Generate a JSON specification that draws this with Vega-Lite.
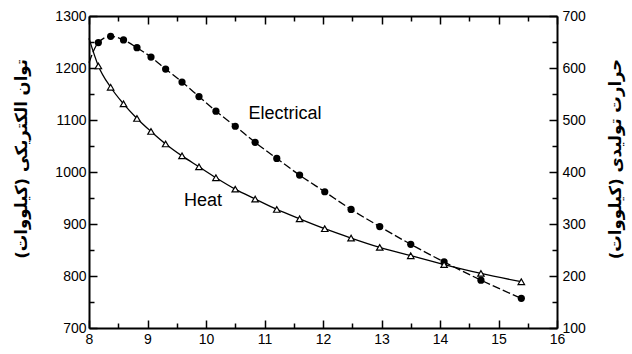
{
  "$schema": "https://vega.github.io/schema/vega-lite/v6.json",
  "autosize": {"type": "none"},
  "padding": {"left": 89, "top": 16, "right": 75, "bottom": 26},
  "width": 468,
  "height": 312,
  "background": "white",
  "config": {
    "view": {"stroke": null},
    "axis": {
      "labelFont": "Liberation Sans",
      "labelFontSize": 14,
      "labelColor": "#000000",
      "domainColor": "#000000",
      "domainWidth": 2,
      "tickColor": "#000000",
      "tickWidth": 1.5,
      "grid": false,
      "format": "d",
      "titleFont": "DejaVu Sans",
      "titleFontWeight": "bold",
      "titleFontSize": 16.5,
      "titleColor": "#000000"
    },
    "text": {"font": "Liberation Sans", "fontSize": 18, "color": "#000000"}
  },
  "datasets": {
    "electrical": [
      {"x": 8.0, "kw": 1210},
      {"x": 8.16, "kw": 1249},
      {"x": 8.37, "kw": 1261},
      {"x": 8.59, "kw": 1254},
      {"x": 8.82, "kw": 1239},
      {"x": 9.06, "kw": 1221},
      {"x": 9.31, "kw": 1198},
      {"x": 9.59, "kw": 1173},
      {"x": 9.88, "kw": 1145},
      {"x": 10.17, "kw": 1117},
      {"x": 10.5, "kw": 1088},
      {"x": 10.84, "kw": 1057},
      {"x": 11.21, "kw": 1026},
      {"x": 11.6, "kw": 994},
      {"x": 12.03, "kw": 962},
      {"x": 12.48, "kw": 928},
      {"x": 12.97, "kw": 895},
      {"x": 13.5, "kw": 861},
      {"x": 14.07, "kw": 827},
      {"x": 14.7, "kw": 792},
      {"x": 15.39, "kw": 757}
    ],
    "heat": [
      {"x": 8.0, "kw": 657},
      {"x": 8.16, "kw": 604},
      {"x": 8.37, "kw": 563},
      {"x": 8.59, "kw": 531},
      {"x": 8.82, "kw": 503},
      {"x": 9.06, "kw": 478},
      {"x": 9.31, "kw": 454},
      {"x": 9.59, "kw": 431},
      {"x": 9.88, "kw": 410},
      {"x": 10.17, "kw": 389},
      {"x": 10.5, "kw": 367},
      {"x": 10.84, "kw": 348},
      {"x": 11.21, "kw": 328},
      {"x": 11.6, "kw": 310},
      {"x": 12.03, "kw": 291},
      {"x": 12.48, "kw": 273},
      {"x": 12.97, "kw": 255},
      {"x": 13.5, "kw": 239},
      {"x": 14.07, "kw": 222},
      {"x": 14.7, "kw": 205},
      {"x": 15.39, "kw": 189}
    ],
    "labels": [
      {"series": "Electrical", "x": 11.35, "kw": 1111},
      {"series": "Heat", "x": 9.95, "kw": 344}
    ]
  },
  "layer": [
    {
      "data": {"name": "electrical"},
      "mark": {"type": "line", "color": "#000000", "strokeWidth": 1.3, "strokeDash": [8, 3], "interpolate": "monotone"},
      "encoding": {
        "x": {"field": "x", "type": "quantitative",
              "scale": {"domain": [8, 16], "nice": false, "zero": false},
              "axis": {"orient": "bottom", "values": [8, 9, 10, 11, 12, 13, 14, 15, 16],
                       "tickSize": -8, "labelPadding": 12, "labelFlush": false, "title": null}},
        "y": {"field": "kw", "type": "quantitative",
              "scale": {"domain": [700, 1300], "nice": false, "zero": false},
              "axis": {"orient": "left", "values": [700, 800, 900, 1000, 1100, 1200, 1300],
                       "tickSize": -8, "labelPadding": 11, "labelFlush": false,
                       "title": "توان الکتریکی (کیلووات)\u200f",
                       "titleAngle": -90, "titleAlign": "center", "titleBaseline": "middle",
                       "titleX": -68, "titleY": 142.5}}
      }
    },
    {
      "data": {"name": "electrical"},
      "transform": [{"filter": "datum.x > 8.05"}],
      "mark": {"type": "point", "shape": "circle", "filled": true, "color": "#000000", "size": 52, "opacity": 1},
      "encoding": {
        "x": {"field": "x", "type": "quantitative",
              "scale": {"domain": [8, 16], "nice": false, "zero": false},
              "axis": {"orient": "bottom", "values": [8.5, 9.5, 10.5, 11.5, 12.5, 13.5, 14.5, 15.5],
                       "tickSize": -5, "labels": false, "domain": false, "title": null}},
        "y": {"field": "kw", "type": "quantitative",
              "scale": {"domain": [700, 1300], "nice": false, "zero": false},
              "axis": {"orient": "left", "values": [750, 850, 950, 1050, 1150, 1250],
                       "tickSize": -5, "labels": false, "domain": false, "title": null}}
      }
    },
    {
      "data": {"name": "labels"},
      "transform": [{"filter": "datum.series == 'Electrical'"}],
      "mark": {"type": "text", "align": "center", "baseline": "middle"},
      "encoding": {
        "text": {"field": "series"},
        "x": {"field": "x", "type": "quantitative",
              "scale": {"domain": [8, 16], "nice": false, "zero": false},
              "axis": {"orient": "top", "values": [8, 9, 10, 11, 12, 13, 14, 15, 16],
                       "tickSize": -8, "labels": false, "title": null}},
        "y": {"field": "kw", "type": "quantitative",
              "scale": {"domain": [700, 1300], "nice": false, "zero": false},
              "axis": null}
      }
    },
    {
      "data": {"name": "heat"},
      "mark": {"type": "line", "color": "#000000", "strokeWidth": 1.3, "interpolate": "monotone"},
      "encoding": {
        "x": {"field": "x", "type": "quantitative",
              "scale": {"domain": [8, 16], "nice": false, "zero": false},
              "axis": {"orient": "top", "values": [8.5, 9.5, 10.5, 11.5, 12.5, 13.5, 14.5, 15.5],
                       "tickSize": -5, "labels": false, "domain": false, "title": null}},
        "y": {"field": "kw", "type": "quantitative",
              "scale": {"domain": [100, 700], "nice": false, "zero": false},
              "axis": {"orient": "right", "values": [100, 200, 300, 400, 500, 600, 700],
                       "tickSize": -8, "labelPadding": 13, "labelFlush": false,
                       "title": "حرارت تولیدی (کیلووات)\u200f",
                       "titleAngle": -90, "titleAlign": "center", "titleBaseline": "middle",
                       "titleX": 58, "titleY": 142.5}}
      }
    },
    {
      "data": {"name": "heat"},
      "transform": [{"filter": "datum.x > 8.05"}],
      "mark": {"type": "point", "shape": "triangle-up", "filled": true, "fill": "#ffffff", "stroke": "#000000", "strokeWidth": 1.2, "size": 42, "opacity": 1},
      "encoding": {
        "x": {"field": "x", "type": "quantitative",
              "scale": {"domain": [8, 16], "nice": false, "zero": false},
              "axis": null},
        "y": {"field": "kw", "type": "quantitative",
              "scale": {"domain": [100, 700], "nice": false, "zero": false},
              "axis": {"orient": "right", "values": [150, 250, 350, 450, 550, 650],
                       "tickSize": -5, "labels": false, "domain": false, "title": null}}
      }
    },
    {
      "data": {"name": "labels"},
      "transform": [{"filter": "datum.series == 'Heat'"}],
      "mark": {"type": "text", "align": "center", "baseline": "middle"},
      "encoding": {
        "text": {"field": "series"},
        "x": {"field": "x", "type": "quantitative",
              "scale": {"domain": [8, 16], "nice": false, "zero": false},
              "axis": null},
        "y": {"field": "kw", "type": "quantitative",
              "scale": {"domain": [100, 700], "nice": false, "zero": false},
              "axis": null}
      }
    }
  ],
  "resolve": {
    "scale": {"y": "independent"},
    "axis": {"x": "independent", "y": "independent"}
  }
}
